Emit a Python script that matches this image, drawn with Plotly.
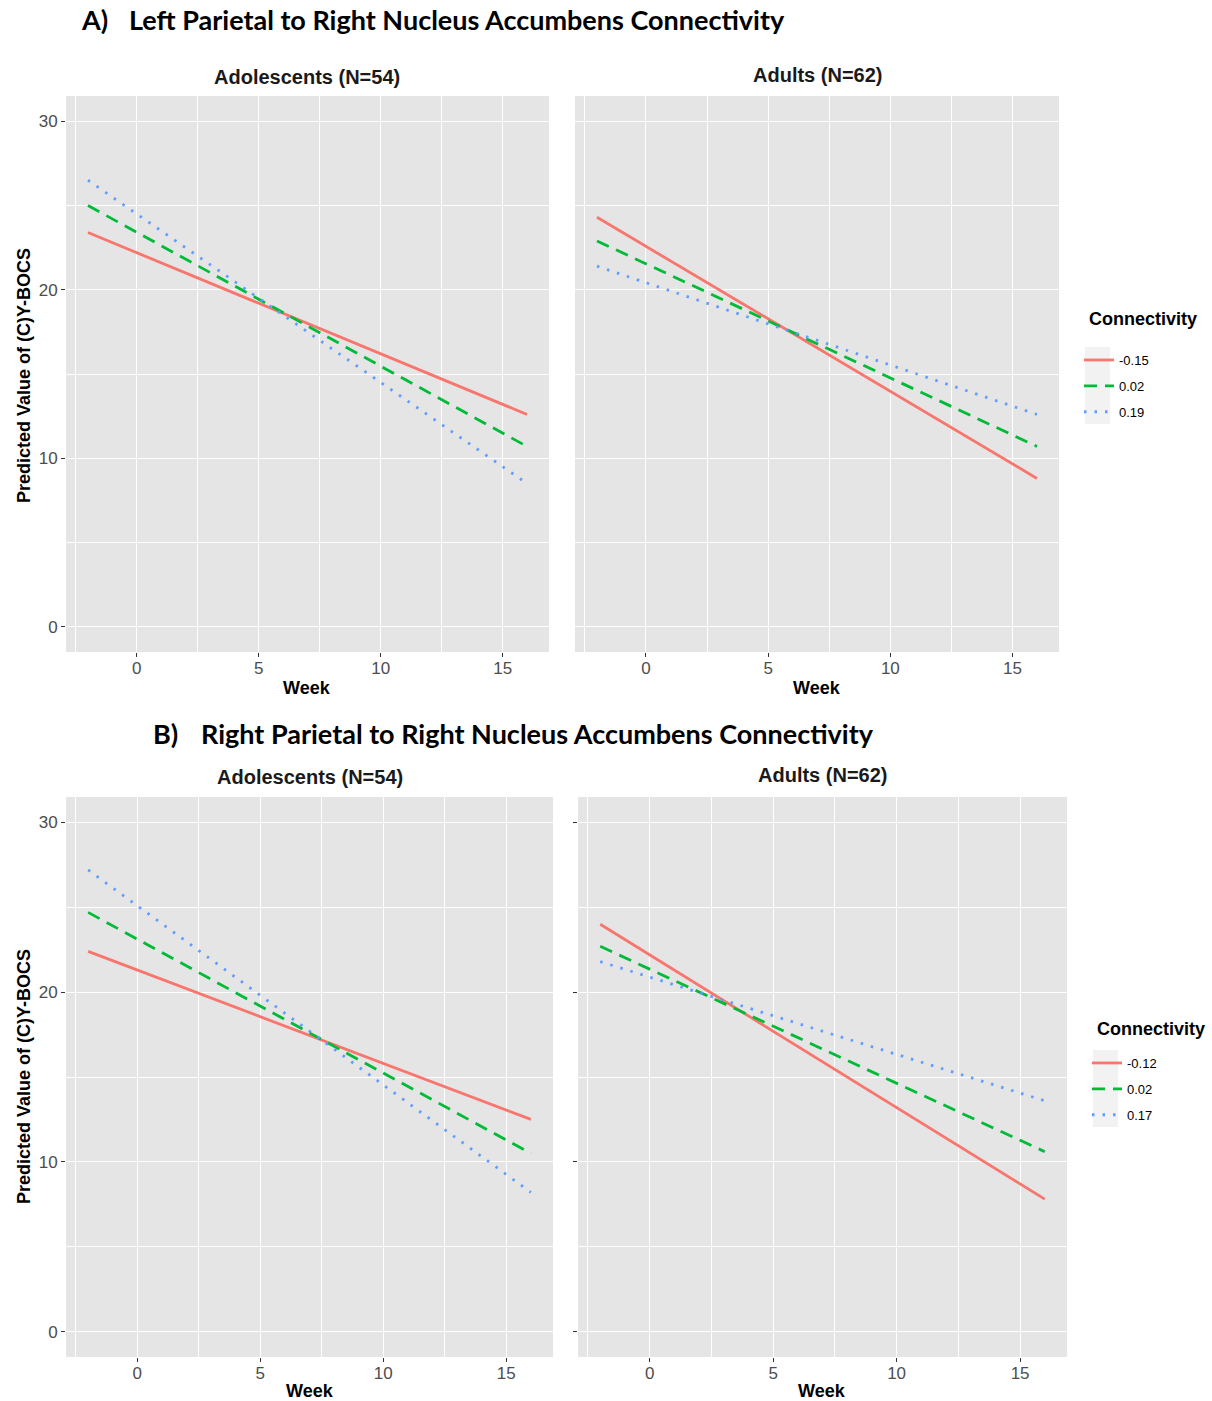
import plotly.graph_objects as go

W, H = 1212, 1401

# ---------------- data ----------------
week_span = [-2, 16]

conn_levels_a = ["-0.15", "0.02", "0.19"]
conn_levels_b = ["-0.12", "0.02", "0.17"]

# Panel A: Left Parietal -> Right NAcc
a_adol_low = [23.4, 12.6]
a_adol_mid = [25.0, 10.7]
a_adol_high = [26.5, 8.5]
a_adult_low = [24.3, 8.8]
a_adult_mid = [22.9, 10.7]
a_adult_high = [21.4, 12.6]

# Panel B: Right Parietal -> Right NAcc
b_adol_low = [22.4, 12.5]
b_adol_mid = [24.7, 10.5]
b_adol_high = [27.2, 8.2]
b_adult_low = [24.0, 7.8]
b_adult_mid = [22.7, 10.6]
b_adult_high = [21.8, 13.6]

x_ticks = [0, 5, 10, 15]
y_ticks = [0, 10, 20, 30]

# ---------------- style ----------------
colors = ["#F8766D", "#00BA38", "#619CFF"]
dashes = ["solid", "13px,8px", "2.5px,8px"]
PANEL_BG = "#E5E5E5"
TICK_FONT = dict(family="Liberation Sans, Arial", size=17, color="#4D4D4D")


def px(x):
    return x / W


def py(y):
    return 1 - y / H


fig = go.Figure()

panels = [
    ("x", "y", [a_adol_low, a_adol_mid, a_adol_high], conn_levels_a, "legend", True),
    ("x2", "y2", [a_adult_low, a_adult_mid, a_adult_high], conn_levels_a, "legend", False),
    ("x3", "y3", [b_adol_low, b_adol_mid, b_adol_high], conn_levels_b, "legend2", True),
    ("x4", "y4", [b_adult_low, b_adult_mid, b_adult_high], conn_levels_b, "legend2", False),
]

for xa, ya, series, levels, leg, show in panels:
    for i, (vals, name) in enumerate(zip(series, levels)):
        fig.add_trace(go.Scatter(
            x=week_span, y=vals, mode="lines", name=name,
            line=dict(color=colors[i], width=2.8, dash=dashes[i]),
            xaxis=xa, yaxis=ya, showlegend=show, legend=leg,
            legendgroup=leg + name,
        ))

# axis domains in pixels (left, right, top, bottom)
doms = {
    1: (66, 549, 96, 652),
    2: (575, 1059, 96, 652),
    3: (66, 553, 797, 1357),
    4: (578, 1067, 797, 1357),
}

layout = dict(
    width=W, height=H,
    margin=dict(l=0, r=0, t=0, b=0),
    paper_bgcolor="white",
    plot_bgcolor=PANEL_BG,
    showlegend=True,
)

for k, (l, r, t, b) in doms.items():
    sfx = "" if k == 1 else str(k)
    left = k in (1, 3)
    layout["xaxis" + sfx] = dict(
        domain=[px(l), px(r)], range=[-2.9, 16.9], anchor="y" + sfx,
        tickvals=x_ticks, ticks="outside", ticklen=4, tickcolor="#333333",
        tickfont=TICK_FONT, showgrid=True, gridcolor="white", gridwidth=1.2,
        zeroline=False, showline=False, ticklabelstandoff=-3,
        minor=dict(dtick=2.5, tick0=0, showgrid=True, gridcolor="white", gridwidth=0.6, ticks=""),
    )
    layout["yaxis" + sfx] = dict(
        domain=[py(b), py(t)], range=[-1.5, 31.5], anchor="x" + sfx,
        tickvals=y_ticks, ticks="outside" if k != 2 else "", ticklen=4, tickcolor="#333333",
        tickfont=TICK_FONT, showticklabels=left, showgrid=True, gridcolor="white",
        gridwidth=1.2, zeroline=False, showline=False,
        minor=dict(dtick=5, tick0=0, showgrid=True, gridcolor="white", gridwidth=0.6, ticks=""),
    )

LEG_FONT = dict(family="Liberation Sans, Arial", size=13, color="black")
layout["legend"] = dict(
    x=px(1079), y=py(345), xanchor="left", yanchor="top",
    bgcolor="rgba(0,0,0,0)", font=LEG_FONT, tracegroupgap=6, itemwidth=30,
)
layout["legend2"] = dict(
    x=px(1087), y=py(1048), xanchor="left", yanchor="top",
    bgcolor="rgba(0,0,0,0)", font=LEG_FONT, tracegroupgap=6, itemwidth=30,
)

fig.update_layout(**layout)

TITLE_FONT = dict(family="Lato, Open Sans", size=27, color="black")
STRIP_FONT = dict(family="Liberation Sans, Arial", size=20, color="#1A1A1A")
AX_FONT = dict(family="Liberation Sans, Arial", size=18, color="black")


def ann(text, x, y, font, xanchor="center", angle=0):
    fig.add_annotation(text=text, x=px(x), y=py(y), xref="paper", yref="paper",
                       showarrow=False, xanchor=xanchor, yanchor="middle",
                       font=font, textangle=angle)


ann("<b>A)</b>", 79, 20, TITLE_FONT, "left")
ann("<b>Left Parietal to Right Nucleus Accumbens Connectivity</b>", 127, 20, TITLE_FONT, "left")
ann("<b>B)</b>", 151, 733, TITLE_FONT, "left")
ann("<b>Right Parietal to Right Nucleus Accumbens Connectivity</b>", 199, 733, TITLE_FONT, "left")

ann("<b>Adolescents (N=54)</b>", 307, 77, STRIP_FONT)
ann("<b>Adults (N=62)</b>", 817, 75, STRIP_FONT)
ann("<b>Adolescents (N=54)</b>", 310, 777, STRIP_FONT)
ann("<b>Adults (N=62)</b>", 822, 775, STRIP_FONT)

ann("<b>Week</b>", 307, 688, AX_FONT)
ann("<b>Week</b>", 817, 688, AX_FONT)
ann("<b>Week</b>", 310, 1391, AX_FONT)
ann("<b>Week</b>", 822, 1391, AX_FONT)

ann("<b>Predicted Value of (C)Y-BOCS</b>", 24, 376, AX_FONT, angle=-90)
ann("<b>Predicted Value of (C)Y-BOCS</b>", 24, 1077, AX_FONT, angle=-90)

ann("<b>Connectivity</b>", 1143, 319, AX_FONT)
ann("<b>Connectivity</b>", 1151, 1029, AX_FONT)

# legend key backgrounds
for (x0, x1, y0, y1) in [(1085, 1110, 347, 424), (1093, 1118, 1050, 1127)]:
    fig.add_shape(type="rect", xref="paper", yref="paper",
                  x0=px(x0), x1=px(x1), y0=py(y1), y1=py(y0),
                  fillcolor="#F2F2F2", line=dict(width=0), layer="below")

fig.write_html("out.html")
